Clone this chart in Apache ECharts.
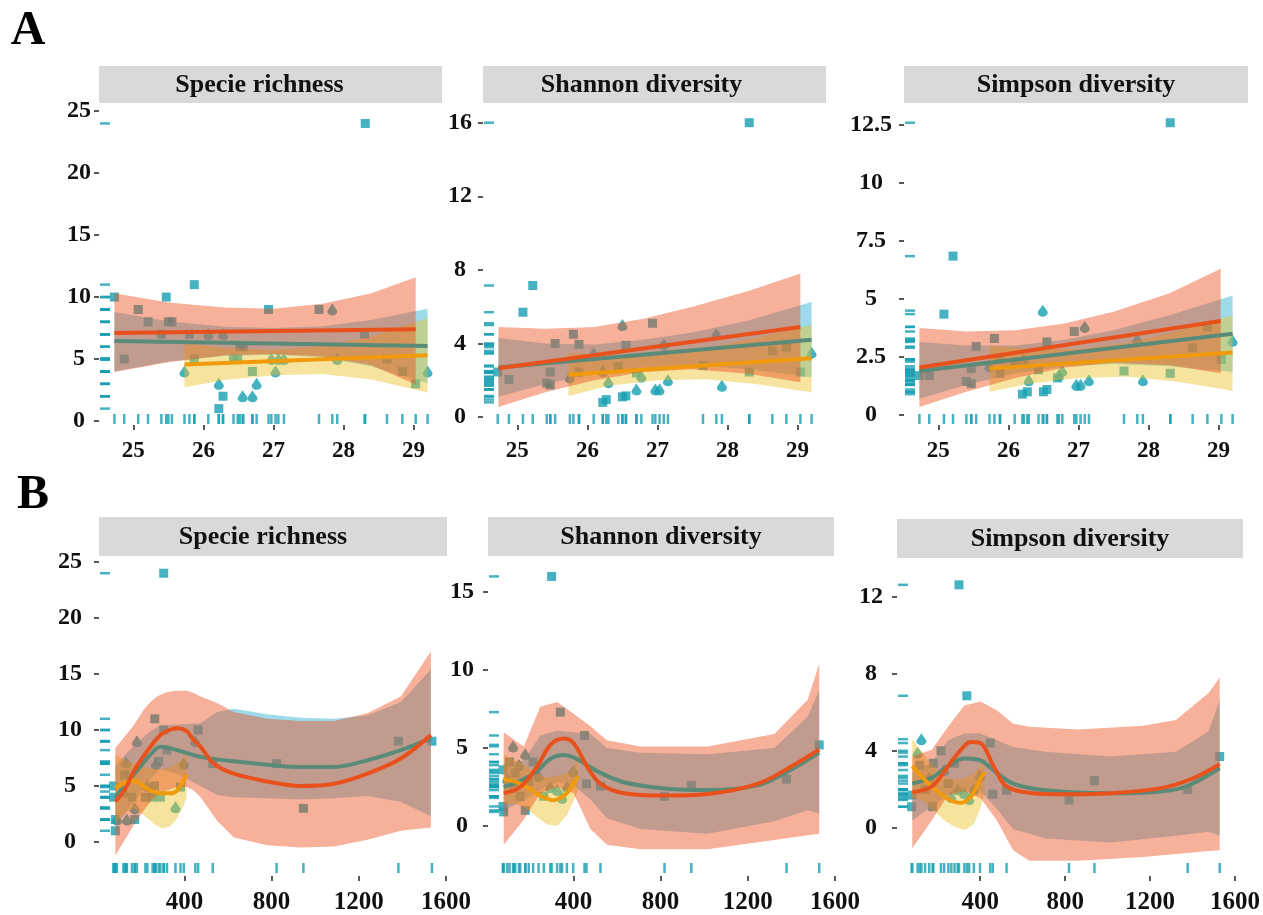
<!DOCTYPE html>
<html>
<head>
<meta charset="utf-8">
<script src="https://cdn.jsdelivr.net/npm/echarts@6/dist/echarts.min.js"></script>
<style>
html, body { margin: 0; background: #fff; }
#chart { width: 1263px; height: 915px; }
</style>
</head>
<body>
<div id="chart"></div>
<script>
// strip titles and tick labels
const stripTitles = ['Specie richness', 'Shannon diversity', 'Simpson diversity'];
const tempTicks = [25, 26, 27, 28, 29];
const elevTicks = [400, 800, 1200, 1600];
const richTicks = [0, 5, 10, 15, 20, 25];
const shanTicksA = [0, 4, 8, 12, 16];
const simpTicksA = [0, 2.5, 5, 7.5, 10, 12.5];
const shanTicksB = [0, 5, 10, 15];
const simpTicksB = [0, 4, 8, 12];

// ---- A: temperature ----
// points [x, y]: squares (group 1) and triangles (group 2)
const a1Sq = [[24.73,10],[24.87,5],[25.07,9],[25.21,8],[25.40,7],[25.47,10],[25.50,8],[25.55,8],[25.80,7],[25.87,11],[25.87,5],[26.22,1],[26.28,2],[26.43,5],[26.49,5],[26.52,6],[26.57,6],[26.70,4],[26.93,9],[27.65,9],[28.31,24],[28.30,7],[28.62,5],[28.84,4],[29.03,3]];
const a1Tri = [[25.73,4],[26.07,7],[26.28,7],[26.22,3],[26.56,2],[26.70,2],[26.76,3],[26.97,5],[27.07,5],[27.15,5],[27.03,4],[27.84,9],[27.91,5],[29.20,4]];
const a2Sq = [[24.72,2.45],[24.88,2.05],[25.08,5.7],[25.22,7.15],[25.42,1.85],[25.47,1.75],[25.47,2.45],[25.54,4.0],[25.80,4.5],[25.88,3.95],[25.88,2.45],[26.22,0.8],[26.27,0.95],[26.44,2.75],[26.50,1.1],[26.55,1.15],[26.55,3.9],[26.70,2.4],[26.93,5.1],[27.65,2.8],[28.31,16],[28.31,2.45],[28.64,3.6],[28.84,3.8],[29.04,2.45]];
const a2Tri = [[25.75,2.15],[26.09,3.45],[26.22,2.5],[26.30,1.9],[26.50,5.0],[26.70,1.5],[26.77,2.2],[26.97,1.5],[27.03,1.5],[27.09,3.95],[27.15,2.0],[27.84,4.5],[27.92,1.7],[29.20,3.5]];
const a3Sq = [[24.73,1.7],[24.87,1.7],[25.08,4.35],[25.21,6.85],[25.40,1.45],[25.47,1.35],[25.47,2.0],[25.54,2.95],[25.80,3.3],[25.88,1.8],[25.88,2.4],[26.20,0.9],[26.27,1.0],[26.43,1.95],[26.50,1.0],[26.55,1.1],[26.55,3.15],[26.70,1.6],[26.94,3.6],[27.65,1.9],[28.31,12.6],[28.31,1.8],[28.63,2.9],[28.84,3.8],[29.04,2.4]];
const a3Tri = [[25.73,2.1],[26.09,2.3],[26.22,2.4],[26.29,1.5],[26.49,4.5],[26.72,1.7],[26.77,1.9],[26.97,1.3],[27.03,1.3],[27.09,3.8],[27.15,1.5],[27.84,3.25],[27.92,1.5],[29.20,3.2]];

// fitted lines [x, y]
const a1RedLine = [[24.73,7.1],[29.03,7.4]];
const a1TealLine = [[24.73,6.45],[29.2,6.05]];
const a1YellowLine = [[25.73,4.55],[29.2,5.3]];
const a2RedLine = [[24.73,2.65],[29.04,4.9]];
const a2TealLine = [[24.73,2.7],[29.2,4.2]];
const a2YellowLine = [[25.73,2.3],[29.2,3.2]];
const a3RedLine = [[24.73,2.05],[29.03,4.05]];
const a3TealLine = [[24.73,1.9],[29.2,3.5]];
const a3YellowLine = [[25.73,2.0],[29.2,2.7]];

// confidence bands [x, lower, upper]
const a1RedBand = [[24.73,3.95,10.3],[25.5,4.75,9.55],[26.3,5.3,9.15],[27.0,5.4,9.05],[27.7,5.2,9.45],[28.4,4.5,10.3],[29.03,2.95,11.6]];
const a1BlueBand = [[24.73,4.0,8.8],[25.5,4.8,8.05],[26.3,5.25,7.6],[27.0,5.35,7.5],[27.7,5.15,7.65],[28.4,4.4,8.15],[29.2,3.05,9.05]];
const a1YellowBand = [[25.73,2.7,6.3],[26.3,3.3,5.9],[27.0,3.7,5.75],[27.7,3.8,6.05],[28.4,3.35,6.8],[29.2,2.3,8.3]];
const a2RedBand = [[24.73,0.55,4.9],[25.4,1.35,4.8],[26.1,2.0,4.9],[26.8,2.45,5.35],[27.5,2.6,6.0],[28.3,2.35,6.85],[29.04,1.9,7.8]];
const a2BlueBand = [[24.73,1.1,4.3],[25.4,1.8,4.0],[26.1,2.35,3.95],[26.8,2.7,4.2],[27.5,2.85,4.6],[28.3,2.6,5.25],[29.2,2.15,6.25]];
const a2YellowBand = [[25.73,1.15,3.5],[26.3,1.7,3.35],[27.0,2.0,3.4],[27.7,2.05,3.75],[28.4,1.8,4.3],[29.2,1.35,5.0]];
const a3RedBand = [[24.73,0.35,3.75],[25.4,1.0,3.6],[26.1,1.6,3.65],[26.8,2.05,3.95],[27.5,2.25,4.45],[28.3,2.15,5.25],[29.03,1.8,6.3]];
const a3BlueBand = [[24.73,0.7,3.15],[25.4,1.3,3.0],[26.1,1.8,3.0],[26.8,2.1,3.25],[27.5,2.2,3.65],[28.3,2.1,4.3],[29.2,1.85,5.15]];
const a3YellowBand = [[25.73,1.0,3.0],[26.3,1.35,2.85],[27.0,1.6,2.85],[27.7,1.65,3.1],[28.4,1.45,3.6],[29.2,1.05,4.3]];

// ---- B: elevation ----
const b4Sq = [[83,1],[83,2],[75,4],[75,5],[126,6],[159,4],[172,2],[221,4],[254,4],[263,5],[290,4],[264,11],[282,7.2],[305,24],[305,10],[320,8.2],[382,4.9],[463,10],[530,7],[823,7],[946,3],[1382,9],[1536,9]];
const b4Tri = [[90,2],[120,4.5],[133,7.1],[136,2],[172,3],[182,9],[230,5],[269,7],[359,3.1],[397,7],[450,9]];
const b5Sq = [[77,1.25],[80,0.9],[77,3.6],[107,4.1],[127,2.5],[133,3.4],[156,1.9],[179,1.0],[195,2.85],[215,4.1],[264,1.9],[300,16],[340,7.3],[451,5.8],[460,2.7],[524,2.55],[818,1.9],[941,2.6],[1378,3.0],[1528,5.2]];
const b5Tri = [[96,3.0],[123,5.1],[150,3.9],[179,4.6],[240,3.2],[294,2.5],[325,2.3],[348,1.8],[370,2.5],[399,3.5]];
const b6Sq = [[77,1.1],[80,1.7],[115,3.25],[140,2.0],[176,1.1],[179,3.35],[215,4.0],[250,2.3],[279,3.35],[300,12.6],[337,6.85],[447,4.4],[459,1.75],[524,1.95],[818,1.45],[938,2.45],[1377,2.0],[1528,3.7]];
const b6Tri = [[105,3.9],[123,4.6],[160,2.6],[230,3.0],[264,1.6],[294,2.0],[325,1.8],[348,1.5],[370,2.0],[399,2.7]];

const b4RedLine = [[83,3.6],[130,4.8],[167,6.3],[210,7.6],[244,8.5],[290,9.55],[330,10.0],[366,10.15],[410,9.9],[443,9.1],[474,8.5],[535,7.0],[627,6.1],[780,5.4],[933,5.0],[1087,5.2],[1240,6.1],[1393,7.45],[1531,9.55]];
const b4TealLine = [[83,4.0],[167,6.0],[244,7.8],[290,8.5],[366,8.2],[474,7.6],[627,7.2],[780,6.9],[933,6.7],[1087,6.7],[1240,7.3],[1393,8.2],[1531,9.25]];
const b4YellowLine = [[83,4.8],[130,5.3],[167,5.5],[210,5.0],[244,4.6],[290,4.35],[336,4.35],[366,4.6],[397,5.5],[410,6.0]];
const b5RedLine = [[80,2.1],[156,2.5],[233,3.8],[294,5.2],[355,5.6],[401,5.3],[463,3.8],[524,2.7],[631,2.1],[818,1.95],[1015,2.05],[1245,2.7],[1398,3.8],[1528,4.9]];
const b5TealLine = [[80,2.5],[156,2.9],[233,3.5],[294,4.3],[355,4.55],[401,4.4],[463,3.9],[524,3.4],[631,2.8],[818,2.4],[1015,2.3],[1245,2.6],[1398,3.6],[1528,4.7]];
const b5YellowLine = [[80,3.0],[140,2.8],[187,2.5],[240,2.0],[280,1.75],[309,1.65],[340,1.8],[370,2.1],[400,2.7],[420,3.2]];
const b6RedLine = [[80,1.85],[172,2.15],[248,3.2],[309,4.05],[355,4.45],[401,4.4],[463,3.2],[524,2.15],[647,1.8],[818,1.75],[1015,1.8],[1245,2.05],[1398,2.55],[1528,3.3]];
const b6TealLine = [[80,2.3],[172,2.6],[248,3.2],[325,3.6],[401,3.5],[478,2.85],[555,2.3],[708,1.95],[1015,1.8],[1322,2.0],[1528,3.1]];
const b6YellowLine = [[80,3.2],[130,2.6],[172,2.15],[248,1.5],[309,1.3],[355,1.6],[394,2.4],[420,2.9]];

const b4RedBand = [[83,-1.2,8.4],[167,1.5,10.4],[213,2.8,11.8],[244,3.6,12.5],[274,4.2,13.0],[320,4.6,13.4],[366,4.9,13.5],[412,4.9,13.5],[443,4.6,13.3],[474,4.0,13.0],[550,1.9,12.4],[627,0.4,11.6],[780,-0.3,11.0],[933,-0.5,10.8],[1087,-0.4,10.8],[1240,0.2,11.5],[1393,1.0,13.0],[1531,1.3,17.0]];
const b4BlueBand = [[83,1.4,6.8],[167,3.5,8.6],[244,5.6,9.9],[290,6.5,10.4],[366,6.1,10.5],[474,5.0,10.6],[550,4.2,11.6],[627,4.0,11.9],[780,3.9,11.4],[933,3.8,11.1],[1087,3.9,11.0],[1240,4.1,11.3],[1393,3.6,12.5],[1531,2.3,15.4]];
const b4YellowBand = [[83,1.8,7.8],[130,2.6,7.3],[167,3.0,7.0],[213,2.4,6.7],[260,1.6,6.5],[297,1.2,6.5],[336,1.4,6.7],[366,2.1,7.0],[397,3.3,7.5],[410,4.0,7.9]];
const b5RedBand = [[80,-1.2,6.0],[172,0.4,5.1],[248,2.1,7.65],[325,2.5,7.95],[401,2.1,7.2],[478,-0.2,6.4],[554,-1.2,5.5],[708,-1.5,5.1],[1015,-1.5,5.1],[1322,-0.9,5.9],[1475,-0.6,8.1],[1528,-0.5,10.4]];
const b5BlueBand = [[80,1.0,4.0],[172,1.6,4.2],[248,2.3,5.8],[325,2.8,6.1],[401,2.6,6.0],[478,1.7,5.9],[554,0.5,5.0],[708,-0.2,4.7],[1015,-0.5,4.6],[1322,0.3,5.0],[1475,1.0,7.0],[1528,0.8,8.7]];
const b5YellowBand = [[80,1.4,4.6],[140,1.4,4.2],[187,1.1,3.8],[240,0.5,3.3],[280,0.1,3.1],[325,0.0,3.2],[370,0.7,3.4],[400,1.6,3.8],[420,2.2,4.3]];
const b6RedBand = [[80,-1.05,3.7],[172,0.4,4.05],[248,1.7,5.25],[325,1.9,6.35],[401,1.55,6.55],[478,0.4,6.1],[555,-1.15,5.4],[631,-1.7,5.25],[861,-1.7,5.1],[1168,-1.5,5.3],[1322,-1.35,5.6],[1475,-1.2,7.0],[1528,-1.15,7.8]];
const b6BlueBand = [[80,0.4,2.9],[172,1.1,3.4],[248,1.7,4.55],[325,2.0,4.9],[401,1.9,4.9],[478,1.0,4.55],[555,-0.05,4.2],[708,-0.55,3.95],[1015,-0.75,3.7],[1322,-0.4,3.95],[1475,-0.2,5.0],[1528,-0.4,6.6]];
const b6YellowBand = [[80,1.6,4.6],[130,1.4,3.9],[172,1.0,3.3],[230,0.4,2.7],[280,0.05,2.5],[330,-0.1,2.6],[370,0.2,2.8],[400,1.0,3.2],[420,1.8,3.7]];

// ---- styling ----
const FONT = '"Liberation Serif", "DejaVu Serif", serif';
const pointColor = '#179fb2';
const blueFill = 'rgba(62,182,214,0.5)';
const yellowFill = 'rgba(232,192,40,0.45)';
const redFill = 'rgba(236,76,24,0.44)';
const tealStroke = '#5a8b78';
const yellowStroke = '#f09a0c';
const redStroke = '#e9511c';
const dropSymbol = 'path://M5,0 L9.3,8 A4.5,4.5 0 1 1 0.7,8 Z';

// panel layout: grid box, axis ranges, strip box, label offsets
const panels = [
    { grid: [99, 103, 344, 322], x: [24.51, 29.42], y: [-0.32, 25.65], xt: tempTicks, yt: richTicks, xFont: 23, xMargin: 15, yMargin: 20, strip: [99, 66, 343, 37], titleShift: -11, rug: 6,
      sq: a1Sq, tri: a1Tri, bands: [a1BlueBand, a1YellowBand, a1RedBand], lines: [a1TealLine, a1YellowLine, a1RedLine], smooth: false, title: stripTitles[0] },
    { grid: [483, 103, 344, 322], x: [24.51, 29.42], y: [-0.43, 17.07], xt: tempTicks, yt: shanTicksA, xFont: 23, xMargin: 15, yMargin: 23, strip: [483, 66, 343, 37], titleShift: -13, rug: 6,
      sq: a2Sq, tri: a2Tri, bands: [a2BlueBand, a2YellowBand, a2RedBand], lines: [a2TealLine, a2YellowLine, a2RedLine], smooth: false, title: stripTitles[1] },
    { grid: [904, 103, 344, 322], x: [24.51, 29.42], y: [-0.43, 13.45], xt: tempTicks, yt: simpTicksA, xFont: 23, xMargin: 15, yMargin: 33, strip: [904, 66, 344, 37], titleShift: 0, rug: 6,
      sq: a3Sq, tri: a3Tri, bands: [a3BlueBand, a3YellowBand, a3RedBand], lines: [a3TealLine, a3YellowLine, a3RedLine], smooth: false, title: stripTitles[2] },
    { grid: [99, 556, 348, 320], x: [8, 1605], y: [-3.04, 25.54], xt: elevTicks, yt: richTicks, xFont: 25, xMargin: 14, yMargin: 29, strip: [99, 517, 348, 39], titleShift: -10, rug: 8,
      sq: b4Sq, tri: b4Tri, bands: [b4BlueBand, b4YellowBand, b4RedBand], lines: [b4TealLine, b4YellowLine, b4RedLine], smooth: 0.35, title: stripTitles[0] },
    { grid: [488, 556, 348, 320], x: [8, 1605], y: [-3.21, 17.31], xt: elevTicks, yt: shanTicksB, xFont: 25, xMargin: 14, yMargin: 26, strip: [488, 517, 346, 39], titleShift: 0, rug: 8,
      sq: b5Sq, tri: b5Tri, bands: [b5BlueBand, b5YellowBand, b5RedBand], lines: [b5TealLine, b5YellowLine, b5RedLine], smooth: 0.35, title: stripTitles[1] },
    { grid: [897, 558, 348, 318], x: [8, 1605], y: [-2.49, 13.99], xt: elevTicks, yt: simpTicksB, xFont: 25, xMargin: 14, yMargin: 26, strip: [897, 519, 346, 39], titleShift: 0, rug: 8,
      sq: b6Sq, tri: b6Tri, bands: [b6BlueBand, b6YellowBand, b6RedBand], lines: [b6TealLine, b6YellowLine, b6RedLine], smooth: 0.35, title: stripTitles[2] }
];

function bandSeries(i, rows, fill) {
    return {
        type: 'custom',
        xAxisIndex: i,
        yAxisIndex: i,
        z: 3,
        silent: true,
        encode: { x: 0, y: [1, 2] },
        data: rows,
        renderItem: function (params, api) {
            if (params.dataIndex !== 0) return null;
            const upper = rows.map(r => api.coord([r[0], r[2]]));
            const lower = rows.map(r => api.coord([r[0], r[1]])).reverse();
            return {
                type: 'polygon',
                shape: { points: upper.concat(lower) },
                style: { fill: fill }
            };
        }
    };
}

const grids = [], xAxes = [], yAxes = [], series = [], graphics = [];
const axisTickStyle = { color: '#222', width: 1.5 };
const plain = v => String(v);

panels.forEach((p, i) => {
    grids.push({ left: p.grid[0], top: p.grid[1], width: p.grid[2], height: p.grid[3] });
    xAxes.push({
        type: 'value', gridIndex: i, min: p.x[0], max: p.x[1],
        axisLine: { show: false, onZero: false },
        axisTick: { show: true, length: 5, lineStyle: axisTickStyle, customValues: p.xt },
        axisLabel: { customValues: p.xt, margin: p.xMargin, fontSize: p.xFont, fontWeight: 'bold', fontFamily: FONT, color: '#111', formatter: plain },
        splitLine: { show: false }
    });
    yAxes.push({
        type: 'value', gridIndex: i, min: p.y[0], max: p.y[1],
        axisLine: { show: false, onZero: false },
        axisTick: { show: true, length: 5, lineStyle: axisTickStyle, customValues: p.yt },
        axisLabel: { customValues: p.yt, margin: p.yMargin, align: 'center', fontSize: 24, fontWeight: 'bold', fontFamily: FONT, color: '#111', formatter: plain },
        splitLine: { show: false }
    });

    const allPts = p.sq.concat(p.tri);
    // points sit under the bands
    series.push({ type: 'scatter', xAxisIndex: i, yAxisIndex: i, z: 1, symbol: 'rect', symbolSize: 9, data: p.sq, itemStyle: { color: pointColor }, silent: true });
    series.push({ type: 'scatter', xAxisIndex: i, yAxisIndex: i, z: 1, symbol: dropSymbol, symbolSize: [10, 12], data: p.tri, itemStyle: { color: pointColor }, silent: true });
    // rugs
    series.push({ type: 'scatter', xAxisIndex: i, yAxisIndex: i, z: 1, symbol: 'rect', symbolSize: [10, 2.5], symbolOffset: [6, 0], clip: false,
        data: allPts.map(d => [p.x[0], d[1]]), itemStyle: { color: pointColor }, silent: true });
    series.push({ type: 'scatter', xAxisIndex: i, yAxisIndex: i, z: 1, symbol: 'rect', symbolSize: [2.5, 10], symbolOffset: [0, -p.rug], clip: false,
        data: allPts.map(d => [d[0], p.y[0]]), itemStyle: { color: pointColor }, silent: true });
    // bands
    series.push(bandSeries(i, p.bands[0], blueFill));
    series.push(bandSeries(i, p.bands[1], yellowFill));
    series.push(bandSeries(i, p.bands[2], redFill));
    // fitted lines
    [[p.lines[0], tealStroke], [p.lines[1], yellowStroke], [p.lines[2], redStroke]].forEach(([d, c]) => {
        series.push({ type: 'line', xAxisIndex: i, yAxisIndex: i, z: 5, data: d, showSymbol: false, smooth: p.smooth,
            lineStyle: { color: c, width: 4 }, silent: true });
    });

    // facet strip
    graphics.push({ type: 'rect', shape: { x: p.strip[0], y: p.strip[1], width: p.strip[2], height: p.strip[3] }, style: { fill: '#d9d9d9' } });
    graphics.push({ type: 'text', x: p.strip[0] + p.strip[2] / 2 + p.titleShift, y: p.strip[1] + p.strip[3] / 2 + 1,
        style: { text: p.title, font: 'bold 26px ' + FONT, textAlign: 'center', textVerticalAlign: 'middle', fill: '#111' } });
});

graphics.push({ type: 'text', x: 28, y: 32, style: { text: 'A', font: 'bold 48px ' + FONT, textAlign: 'center', textVerticalAlign: 'middle', fill: '#000' } });
graphics.push({ type: 'text', x: 33, y: 496, style: { text: 'B', font: 'bold 48px ' + FONT, textAlign: 'center', textVerticalAlign: 'middle', fill: '#000' } });

const chart = echarts.init(document.getElementById('chart'));
chart.setOption({
    backgroundColor: '#fff',
    animation: false,
    grid: grids,
    xAxis: xAxes,
    yAxis: yAxes,
    series: series,
    graphic: graphics
});
</script>
</body>
</html>
